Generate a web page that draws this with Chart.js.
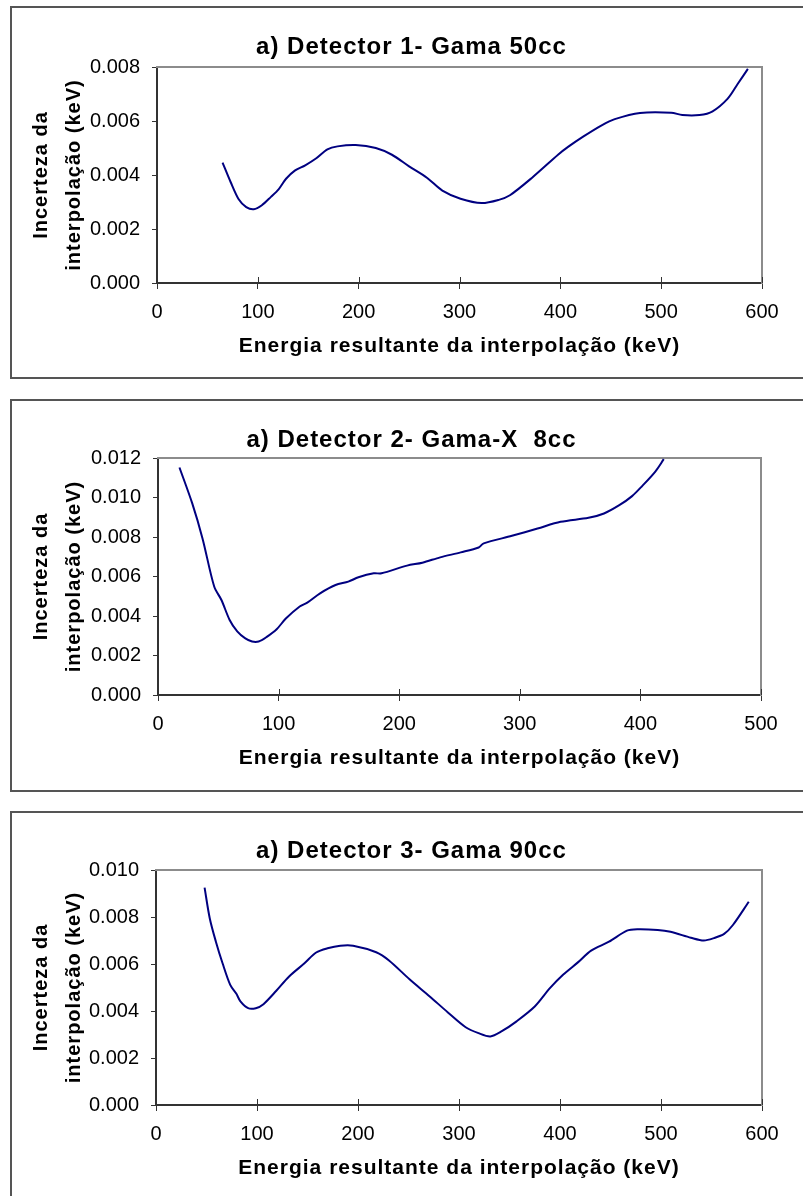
<!DOCTYPE html>
<html><head><meta charset="utf-8">
<script src="https://cdn.jsdelivr.net/npm/chart.js@4/dist/chart.umd.min.js"></script>
<style>
html,body{margin:0;padding:0;background:#fff;width:803px;height:1196px;overflow:hidden;position:relative}
.box{position:absolute;left:10px;width:820px;border:2px solid #555;box-sizing:border-box}
canvas{position:absolute;left:0}
</style></head><body>
<div class="box" style="top:6px;height:373px"></div>
<div class="box" style="top:399px;height:393px"></div>
<div class="box" style="top:811px;height:500px"></div>
<canvas id="c1" width="812" height="372" style="top:7px"></canvas>
<canvas id="c2" width="812" height="391" style="top:400px"></canvas>
<canvas id="c3" width="812" height="384" style="top:812px"></canvas>
<script>
// ---- data ----
const titles = ['a) Detector 1- Gama 50cc', 'a) Detector 2- Gama-X  8cc', 'a) Detector 3- Gama 90cc'];
const xTitle = 'Energia resultante da interpolação (keV)';
const yTitle = ['Incerteza da', 'interpolação (keV)'];

const energy1 = [65,73,81,88.5,96,104,113,120.6,128,137,147,158,169,179,197,217,233,250,268,283,301,322,339,350,372,398,408,423,441,454,479,510,521,538,551,566,576,586];
const unc1 = [0.00446,0.00374,0.00310,0.00281,0.00273,0.00288,0.00319,0.00347,0.00386,0.00417,0.00436,0.00462,0.00495,0.00506,0.00511,0.00500,0.00475,0.00432,0.00389,0.00342,0.00312,0.00296,0.00308,0.00325,0.00390,0.00476,0.00505,0.00543,0.00584,0.00607,0.00630,0.00631,0.00622,0.00622,0.00636,0.00683,0.00738,0.00793];

const energy2 = [17.8,28.4,36.9,46.6,52.6,59.4,65.7,72.1,78,83.5,89.9,98.4,106,117.5,123.8,134.4,147.2,157.8,166.2,178.9,185.3,206.5,219.2,234,251,265.9,270.1,293.5,314.7,333.8,357,369.8,382.5,393.1,401.6,412.2,419.4];
const unc2 = [0.01152,0.00970,0.00793,0.00549,0.00481,0.00380,0.00322,0.00288,0.00271,0.00271,0.00293,0.00333,0.00387,0.00448,0.00468,0.00515,0.00557,0.00574,0.00596,0.00616,0.00616,0.00655,0.00670,0.00697,0.00722,0.00747,0.00768,0.00806,0.00843,0.00877,0.00897,0.00919,0.00961,0.01007,0.01059,0.01130,0.01194];

const energy3 = [48.1,53.2,59.3,65.9,73.5,79.6,83.6,91.2,98.8,106.4,119.1,131.8,147,158.6,169.8,182.5,195.2,218,230.7,251,271,289,306.6,319.3,331,342,357,375,390,403,418,430.8,448.5,466.3,476.4,496.7,509.4,529.6,542.3,552.4,562.5,571.2,586.9];
const unc3 = [0.00925,0.00795,0.00695,0.00603,0.00511,0.00473,0.00441,0.00412,0.00412,0.00429,0.00486,0.00547,0.00603,0.00649,0.00667,0.00678,0.00678,0.00650,0.00615,0.00535,0.00462,0.00394,0.00331,0.00306,0.00292,0.00313,0.00356,0.00419,0.00497,0.00554,0.00608,0.00657,0.00695,0.00742,0.00748,0.00745,0.00737,0.00712,0.00700,0.00710,0.00728,0.00766,0.00865];

const xMax = [600, 500, 600];
const yMax = [0.008, 0.012, 0.010];
const yStep = 0.002;
const xStep = 100;

// ---- layout per panel (sizes, not data) ----
const panels = [
  {id:'c1', ex:energy1, uy:unc1, yw:146, rw:50, tTop:25.6, tBot:5.6, pb:6},
  {id:'c2', ex:energy2, uy:unc2, yw:147, rw:51, tTop:25.6, tBot:3.6, pb:6},
  {id:'c3', ex:energy3, uy:unc3, yw:145, rw:50, tTop:25.3, tBot:3.9, pb:1}
];

const FONT = "'Liberation Sans', Arial, sans-serif";

const spacingPlugin = {
  id: 'spacingPlugin',
  beforeDraw(chart){ chart.ctx.letterSpacing = '1px'; },
  beforeDatasetsDraw(chart){ chart.ctx.letterSpacing = '0px'; },
  afterDatasetsDraw(chart){
    const s = chart.scales.x, ctx = chart.ctx, a = chart.chartArea;
    ctx.save();
    ctx.strokeStyle = '#333'; ctx.lineWidth = 1;
    s.ticks.forEach((t, i) => {
      const px = Math.round(s.getPixelForTick(i)) + 0.5;
      ctx.beginPath(); ctx.moveTo(px, a.bottom); ctx.lineTo(px, a.bottom - 6); ctx.stroke();
    });
    ctx.restore();
  }
};

panels.forEach((p, k) => {
  const pts = p.ex.map((x, i) => ({x: x, y: p.uy[i]}));
  new Chart(document.getElementById(p.id), {
    type: 'line',
    data: { datasets: [{ data: pts, borderColor: '#000080', borderWidth: 2, pointRadius: 0, tension: 0.3, fill: false }] },
    plugins: [spacingPlugin],
    options: {
      responsive: false, animation: false, devicePixelRatio: 1,
      layout: { padding: { left: 11, right: 0, top: 0, bottom: p.pb } },
      plugins: {
        legend: { display: false }, tooltip: { enabled: false },
        title: { display: true, text: titles[k], color: '#000',
          font: { family: FONT, size: 24, weight: 'bold', lineHeight: 1.2 },
          padding: { top: p.tTop, bottom: p.tBot } }
      },
      scales: {
        x: { type: 'linear', position: 'bottom', min: 0, max: xMax[k],
          ticks: { stepSize: xStep, color: '#000', padding: 11.5, z: 1, font: { family: FONT, size: 20 } },
          grid: { drawOnChartArea: false, color: '#333', tickLength: 6, lineWidth: 1 },
          border: { color: '#333', width: 2 },
          title: { display: true, text: xTitle, color: '#000', font: { family: FONT, size: 21, weight: 'bold', lineHeight: 1.2 }, padding: { top: 0, bottom: 13.9 } },
          afterFit: (s) => { s.height = 90; } },
        y: { type: 'linear', position: 'left', min: 0, max: yMax[k],
          ticks: { stepSize: yStep, color: '#000', padding: 12, z: 1, font: { family: FONT, size: 20 },
            callback: (v) => Number(v).toFixed(3) },
          grid: { drawOnChartArea: false, color: '#333', tickLength: 5, lineWidth: 1 },
          border: { color: '#333', width: 2 },
          title: { display: true, text: yTitle, color: '#000', font: { family: FONT, size: 20, weight: 'bold', lineHeight: 1.65 }, padding: { top: 14.2, bottom: 0 } },
          afterFit: (s) => { s.width = p.yw; } },
        x2: { type: 'linear', position: 'top', display: true,
          ticks: { display: false }, grid: { drawOnChartArea: false, drawTicks: false },
          border: { color: '#8c8c8c', width: 2 },
          afterFit: (s) => { s.height = 0; } },
        y2: { type: 'linear', position: 'right', display: true,
          ticks: { display: false }, grid: { drawOnChartArea: false, drawTicks: false },
          border: { color: '#8c8c8c', width: 2 },
          afterFit: (s) => { s.width = p.rw; } }
      }
    }
  });
});
</script>
</body></html>
